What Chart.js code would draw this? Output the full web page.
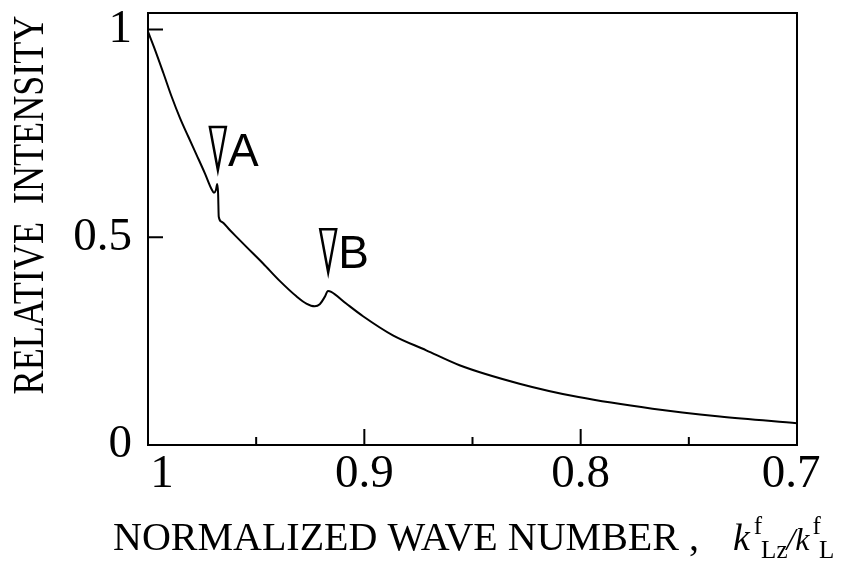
<!DOCTYPE html>
<html>
<head>
<meta charset="utf-8">
<script src="https://cdn.jsdelivr.net/npm/chart.js@4.4.1/dist/chart.umd.min.js"></script>
<style>
  html, body { margin: 0; padding: 0; background: #fff; }
</style>
</head>
<body>
<canvas id="myChart" width="841" height="570"></canvas>
<script>
// curve, from k = 1 down to 0.7
const waveNumber = [1.0, 0.9968, 0.9929, 0.9891, 0.9852, 0.9814, 0.9775, 0.9737, 0.9706, 0.9695,
    0.9686, 0.968, 0.9676, 0.9673, 0.966, 0.9622, 0.9545, 0.9468, 0.939, 0.9314,
    0.9268, 0.9229, 0.9206, 0.9183, 0.9168, 0.9153, 0.9084, 0.9006, 0.8868, 0.8714,
    0.856, 0.8283, 0.801, 0.7668, 0.7357, 0.7];
const intensity = [0.995, 0.952, 0.8955, 0.839, 0.787, 0.7426, 0.698, 0.654, 0.6157, 0.6075,
    0.614, 0.6285, 0.606, 0.5496, 0.5375, 0.5175, 0.477, 0.437, 0.3945, 0.358,
    0.3406, 0.334, 0.339, 0.3566, 0.371, 0.3687, 0.3406, 0.31, 0.264, 0.228,
    0.192, 0.1476, 0.1153, 0.0873, 0.0688, 0.0526];

const xMajorTicks = [1, 0.9, 0.8, 0.7];
const xMinorTicks = [0.95, 0.85, 0.75];
const yTicks = [0, 0.5, 1];

// the two arrows: label, wave number and level of the arrow tip
const markLabels = ['A', 'B'];
const markWave = [0.9677, 0.9167];
const markLevel = [0.662, 0.416];

const serif = '"Liberation Serif", "Times New Roman", serif';
const sans = '"Liberation Sans", Arial, sans-serif';

const framePlugin = {
    id: 'frame',
    afterDraw(chart) {
        const ctx = chart.ctx;
        const a = chart.chartArea;
        const x = chart.scales.x;
        const y = chart.scales.y;
        ctx.save();
        ctx.strokeStyle = '#000';
        ctx.fillStyle = '#000';
        ctx.lineWidth = 2;
        ctx.strokeRect(a.left, a.top, a.right - a.left, a.bottom - a.top);

        // inward tick marks
        ctx.beginPath();
        xMajorTicks.forEach(v => {
            const px = x.getPixelForValue(v);
            ctx.moveTo(px, a.bottom);
            ctx.lineTo(px, a.bottom - 16);
        });
        xMinorTicks.forEach(v => {
            const px = x.getPixelForValue(v);
            ctx.moveTo(px, a.bottom);
            ctx.lineTo(px, a.bottom - 8);
        });
        yTicks.forEach(v => {
            const py = y.getPixelForValue(v);
            ctx.moveTo(a.left, py);
            ctx.lineTo(a.left + 15, py);
        });
        ctx.stroke();

        // x tick labels
        ctx.font = '47px ' + serif;
        ctx.textAlign = 'center';
        ctx.textBaseline = 'alphabetic';
        xMajorTicks.forEach((v, i) => {
            let px = x.getPixelForValue(v);
            if (i === 0) px += 14;
            if (i === xMajorTicks.length - 1) px -= 6;
            ctx.fillText(String(v), px, a.bottom + 42);
        });

        // arrows A and B
        ctx.lineWidth = 2.5;
        markLabels.forEach((lab, i) => {
            const px = x.getPixelForValue(markWave[i]);
            const py = y.getPixelForValue(markLevel[i]);
            ctx.beginPath();
            ctx.moveTo(px, py);
            ctx.lineTo(px - 8, py - 43);
            ctx.lineTo(px + 8, py - 43);
            ctx.closePath();
            ctx.stroke();
            ctx.font = '46px ' + sans;
            ctx.textAlign = 'left';
            ctx.fillText(lab, px + 10, py - 4);
        });

        // y title
        ctx.save();
        ctx.translate(31, 205);
        ctx.rotate(-Math.PI / 2);
        ctx.scale(0.82, 1);
        ctx.font = '44px ' + serif;
        ctx.textAlign = 'center';
        ctx.textBaseline = 'middle';
        ctx.fillText('RELATIVE  INTENSITY', 0, 0);
        ctx.restore();

        // x title with k^f_Lz / k^f_L
        const base = 550;
        let cx = 113;
        ctx.textAlign = 'left';
        ctx.textBaseline = 'alphabetic';
        ctx.font = '40px ' + serif;
        const head = 'NORMALIZED WAVE NUMBER ,';
        ctx.fillText(head, cx, base);
        cx += ctx.measureText(head).width + 34;
        ctx.font = 'italic 38px ' + serif;
        ctx.fillText('k', cx, base);
        cx += ctx.measureText('k').width + 4;
        ctx.font = '25px ' + serif;
        ctx.fillText('f', cx, base - 16);
        cx += ctx.measureText('f').width - 1;
        ctx.fillText('Lz', cx, base + 8);
        cx += ctx.measureText('Lz').width - 1;
        ctx.font = 'italic 32px ' + serif;
        ctx.fillText('/k', cx, base);
        cx += ctx.measureText('/k').width + 3;
        ctx.font = '25px ' + serif;
        ctx.fillText('f', cx, base - 16);
        cx += ctx.measureText('f').width - 2;
        ctx.fillText('L', cx, base + 8);
        ctx.restore();
    }
};

const ctx = document.getElementById('myChart').getContext('2d');
const myChart = new Chart(ctx, {
    type: 'line',
    data: {
        datasets: [{
            label: 'relative intensity',
            data: waveNumber.map((k, i) => ({ x: k, y: intensity[i] })),
            borderColor: '#000',
            borderWidth: 2,
            pointRadius: 0,
            fill: false,
            cubicInterpolationMode: 'monotone'
        }]
    },
    options: {
        responsive: false,
        animation: false,
        devicePixelRatio: 1,
        layout: { padding: { left: 0, top: 13, right: 44, bottom: 0 } },
        plugins: {
            legend: { display: false },
            tooltip: { enabled: false }
        },
        scales: {
            x: {
                type: 'linear',
                reverse: true,
                min: 0.7,
                max: 1,
                grid: { display: false },
                border: { display: false },
                ticks: { display: false },
                afterFit: s => { s.height = 125; s.paddingLeft = 0; s.paddingRight = 0; }
            },
            y: {
                min: 0,
                max: 1.04,
                grid: { display: false },
                border: { display: false },
                afterBuildTicks: s => { s.ticks = yTicks.map(v => ({ value: v })); },
                ticks: {
                    color: '#000',
                    padding: 8,
                    font: { family: serif, size: 47, lineHeight: 1 },
                    callback: v => String(v)
                },
                afterFit: s => { s.width = 148; s.paddingTop = 0; s.paddingBottom = 0; }
            }
        }
    },
    plugins: [framePlugin]
});
</script>
</body>
</html>
